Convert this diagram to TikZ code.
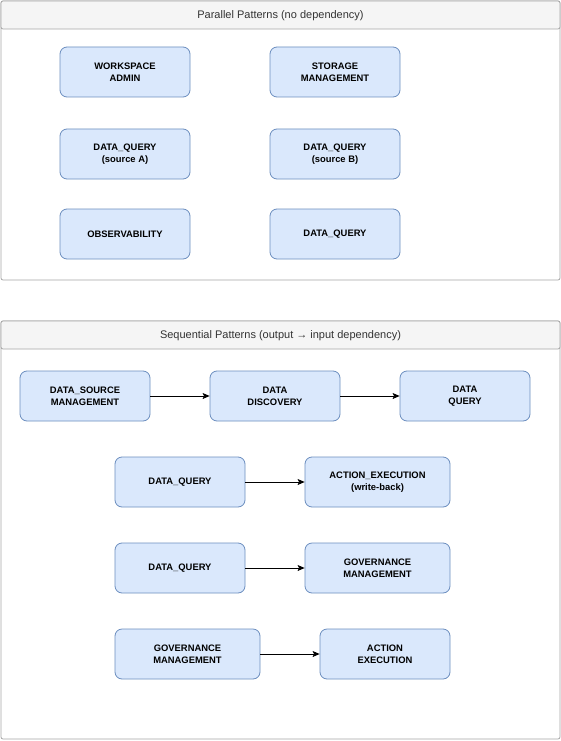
\documentclass[tikz,border=0pt]{standalone}
\usepackage{fontspec}
\setmainfont{Liberation Sans}
\usetikzlibrary{arrows.meta}
\definecolor{boxfill}{HTML}{DAE8FC}
\definecolor{boxline}{HTML}{6C8EBF}
\definecolor{lanefill}{HTML}{F5F5F5}
\definecolor{laneline}{HTML}{A6A6A6}
\definecolor{lanetext}{HTML}{333333}
\tikzset{
  pbox/.style={draw=boxline, fill=boxfill, rounded corners=7pt, line width=0.8pt,
    minimum width=130pt, minimum height=50pt, align=center, inner sep=0pt,
    font=\fontsize{9.4}{12}\selectfont\bfseries},
  dep/.style={-{Stealth[length=7pt,width=6pt,inset=1.5pt]}, line width=0.8pt},
  lanetitle/.style={font=\fontsize{11}{13}\selectfont, text=lanetext}
}
\begin{document}
\begin{tikzpicture}[x=1pt,y=-1pt]
\useasboundingbox (0,0) rectangle (561,741);
% parallel lane
\draw[laneline, fill=white, line width=0.8pt, rounded corners=2pt] (1,1) rectangle (560,280);
\draw[laneline, fill=lanefill, line width=0.8pt, rounded corners=2pt] (1,1) rectangle (560,29);
\node[lanetitle] (partitle) at (280.5,15.5) {Parallel Patterns (no dependency)};
\node[pbox] (wsadmin) at (125,72) {WORKSPACE\\ADMIN};
\node[pbox] (storage) at (335,72) {STORAGE\\MANAGEMENT};
\node[pbox] (querya) at (125,154) {DATA\_QUERY\\(source A)};
\node[pbox] (queryb) at (335,154) {DATA\_QUERY\\(source B)};
\node[pbox] (observ) at (125,234) {OBSERVABILITY};
\node[pbox] (queryp) at (335,234) {DATA\_QUERY};
% sequential lane
\draw[laneline, fill=white, line width=0.8pt, rounded corners=2pt] (1,321) rectangle (560,739);
\draw[laneline, fill=lanefill, line width=0.8pt, rounded corners=2pt] (1,321) rectangle (560,349);
\node[lanetitle] (seqtitle) at (280.5,335.5) {Sequential Patterns (output → input dependency)};
\node[pbox] (dsmgmt) at (85,396) {DATA\_SOURCE\\MANAGEMENT};
\node[pbox] (discov) at (275,396) {DATA\\DISCOVERY};
\node[pbox] (query) at (465,396) {DATA\\QUERY};
\node[pbox] (queryw) at (180,482) {DATA\_QUERY};
\node[pbox, minimum width=145pt] (actwb) at (377.5,482) {ACTION\_EXECUTION\\(write-back)};
\node[pbox] (queryg) at (180,568) {DATA\_QUERY};
\node[pbox, minimum width=145pt] (govmgmt) at (377.5,568) {GOVERNANCE\\MANAGEMENT};
\node[pbox, minimum width=145pt] (govsrc) at (187.5,654) {GOVERNANCE\\MANAGEMENT};
\node[pbox] (actexec) at (385,654) {ACTION\\EXECUTION};
\draw[dep] (dsmgmt) -- (discov);
\draw[dep] (discov) -- (query);
\draw[dep] (queryw) -- (actwb);
\draw[dep] (queryg) -- (govmgmt);
\draw[dep] (govsrc) -- (actexec);
\end{tikzpicture}
\end{document}
